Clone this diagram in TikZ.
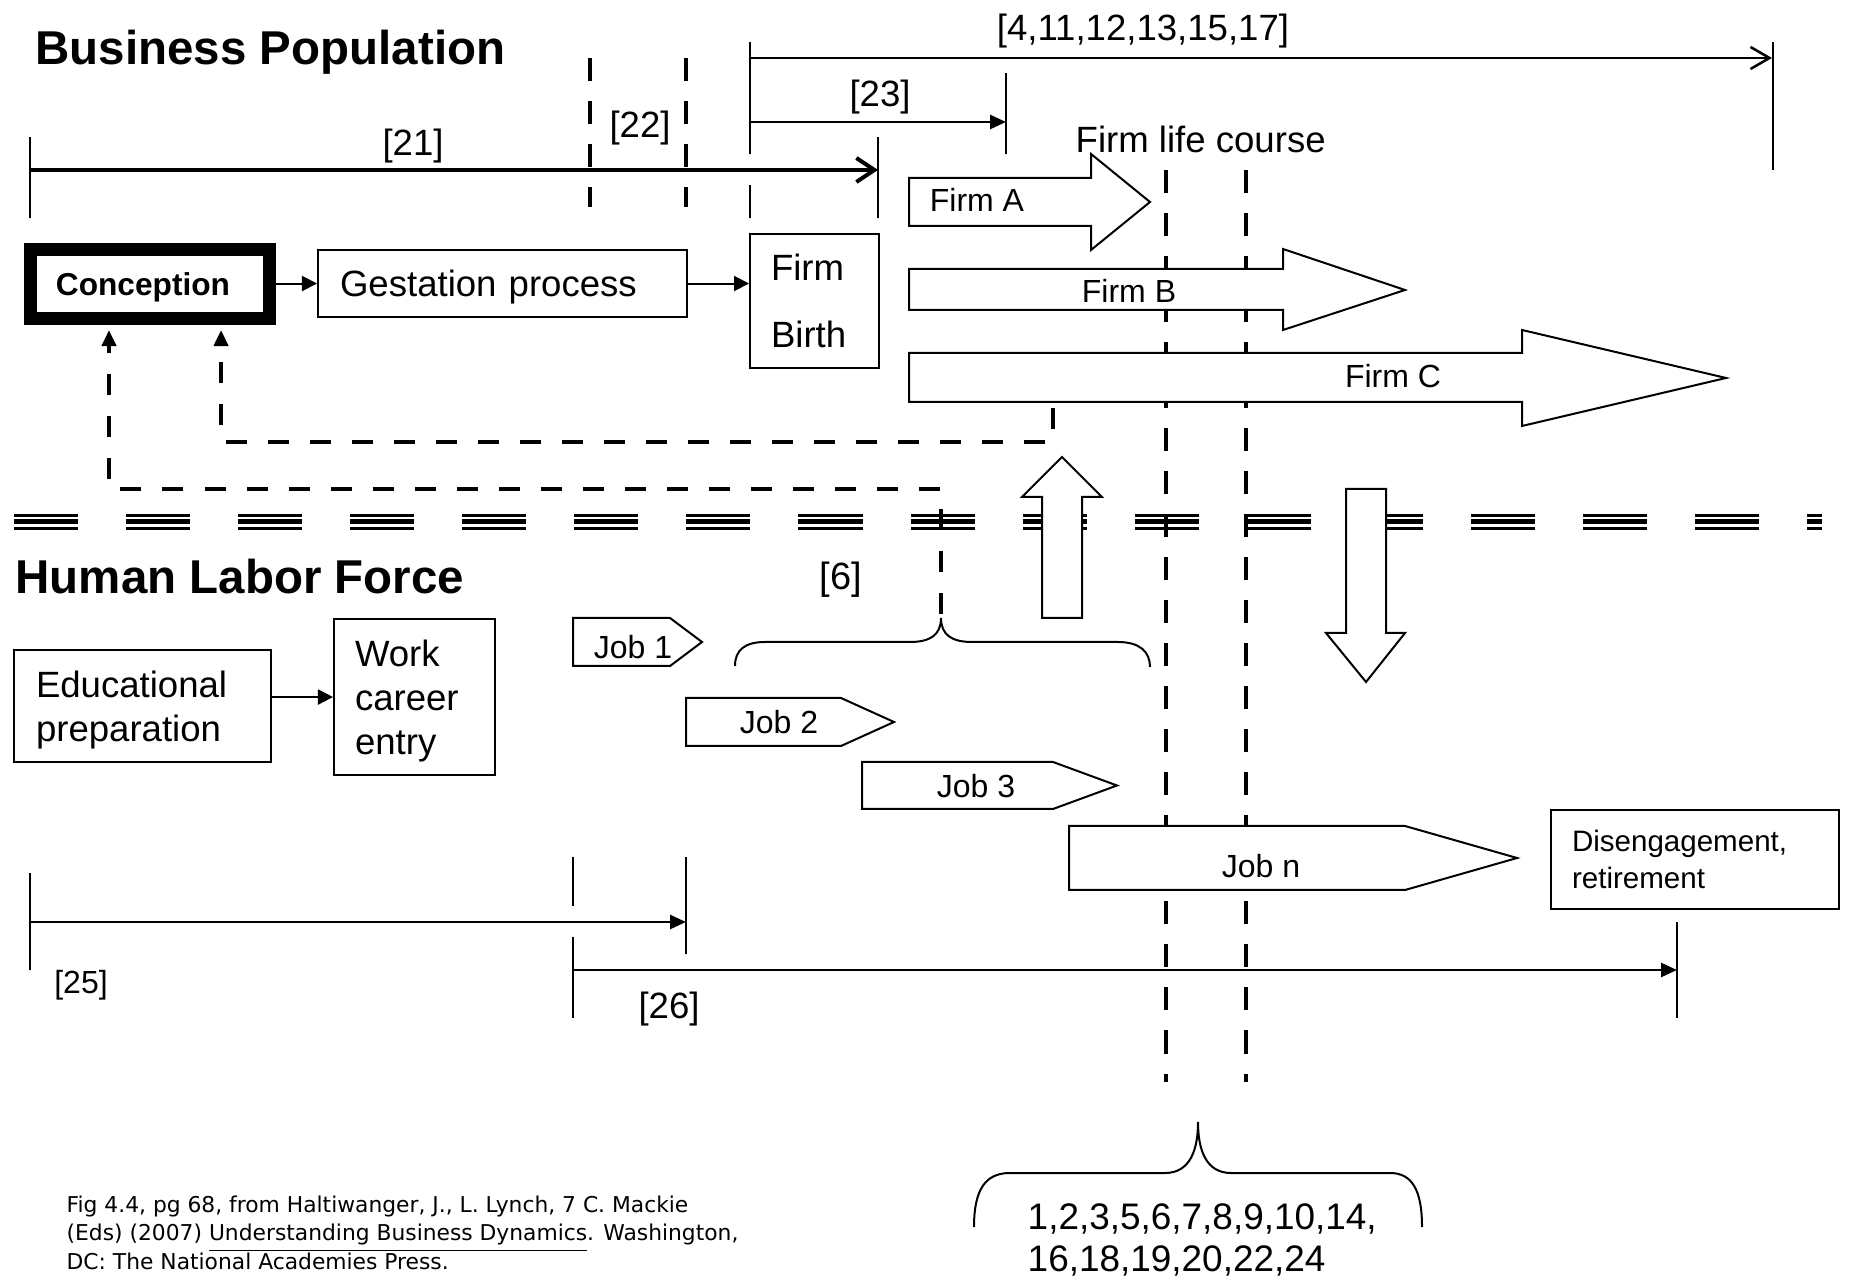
\documentclass[tikz,border=0pt]{standalone}
\usepackage{fontspec}
\setmainfont{Liberation Sans}
\newfontfamily\citefont{DejaVu Sans}
\usetikzlibrary{arrows.meta}

\tikzset{
  box/.style={draw, line width=0.2mm, inner ysep=0pt, align=left},
  lbl/.style={font=\fontsize{10.4}{12}\selectfont, inner sep=0pt},
  sml/.style={font=\fontsize{9.1}{11}\selectfont, inner sep=0pt},
  ttl/.style={font=\fontsize{13.5}{16}\selectfont\bfseries, inner sep=0pt},
  tick/.style={line width=0.2mm},
  bar/.style={line width=0.45mm, dash pattern=on 2.3mm off 2mm},
  fb/.style={line width=0.43mm, dash pattern=on 2.1mm off 2.1mm, -{Triangle[length=1.6mm,width=1.4mm]}},
  tl/.style={line width=0.27mm, -{Triangle[length=1.6mm,width=1.4mm]}},
  shp/.style={draw, line width=0.2mm, fill=white},
  arr/.style={line width=0.2mm, -{Triangle[length=1.5mm,width=1.5mm]}},
}

\begin{document}
\begin{tikzpicture}[x=0.01cm, y=-0.01cm]
\fill[white] (0,0) rectangle (1849,1277);
\useasboundingbox (0,0) rectangle (1849,1277);

%% titles
\node[ttl, anchor=base west] (bp) at (35,65) {Business Population};
\node[ttl, anchor=base west] (hlf) at (15,594) {Human Labor Force};

%% business side boxes
\node[draw, line width=1.3mm, font=\fontsize{9}{11}\selectfont\bfseries, minimum width=23.9mm, minimum height=6.9mm,
      text width=18.8mm, text depth=0pt, inner xsep=2.55mm, inner ysep=0pt, align=left] (concep) at (150,284) {Conception};
\node[box, lbl, text depth=0pt, anchor=north west, minimum width=36.9mm, minimum height=6.7mm, text width=32.5mm, inner xsep=2.2mm] (gest) at (317,249) {Gestation process};
\node[box, lbl, font=\fontsize{10.4}{19}\selectfont, anchor=north west, minimum width=12.9mm, minimum height=13.4mm,
      text width=8.7mm, inner xsep=2.1mm] (birth) at (749,233) {Firm\\Birth};
\draw[arr] (gest.west -| concep.east) -- (gest.west);
\draw[arr] (gest.east) -- (gest.east -| birth.west);

%% labour side boxes
\node[box, lbl, font=\fontsize{10.4}{12.5}\selectfont, anchor=north west, minimum width=25.7mm, minimum height=11.2mm,
      text width=21.3mm, inner xsep=2.2mm] (edu) at (13,649) {\rule{0pt}{10pt}Educational\\preparation};
\node[box, lbl, font=\fontsize{10.4}{12.5}\selectfont, anchor=north west, minimum width=16.1mm, minimum height=15.6mm,
      text width=11.9mm, inner xsep=2.1mm] (work) at (333,618) {\rule{0pt}{9.9pt}Work\\career\\entry};
\node[box, font=\fontsize{8.4}{10.5}\selectfont, anchor=north west, minimum width=28.8mm, minimum height=9.9mm,
      text width=24.6mm, inner xsep=2.1mm] (diseng) at (1550,809) {Disengagement,\\retirement};
\draw[arr] (work.west -| edu.east) -- (work.west);

%% timelines on top
\coordinate (a21) at (30,170);  \coordinate (b21) at (878,170);
\coordinate (a4) at (750,58);   \coordinate (b4) at (1772,58);
\coordinate (a23) at (750,122); \coordinate (b23) at (1006,122);
\draw[line width=0.4mm, -{Straight Barb[length=1.8mm,width=2.4mm]}] (a21) -- (b21);
\draw[line width=0.25mm, -{Straight Barb[length=1.9mm,width=2.2mm]}] (a4) -- (b4);
\draw[tl] (a23) -- (b23);
\draw[tick] (30,137) -- (30,218);
\draw[tick] (878,137) -- (878,218);
\draw[tick] (750,42) -- (750,154) (750,185) -- (750,218);
\draw[tick] (1006,73) -- (1006,154);
\draw[tick] (1773,42) -- (1773,170);
\node[lbl] (l21) at (413,146) {[21]};
\node[lbl] (l22) at (640,128) {[22]};
\node[lbl] (l23) at (880,97) {[23]};
\node[lbl] (l4) at (1143,31) {[4,11,12,13,15,17]};
\node[lbl, anchor=base west] (flc) at (1075,153) {Firm life course};
\draw[bar] (590,58) -- (590,207);
\draw[bar] (686,58) -- (686,207);

%% timelines below
\coordinate (a25) at (30,922);  \coordinate (b25) at (686,922);
\coordinate (a26) at (573,970); \coordinate (b26) at (1677,970);
\draw[tl] (a25) -- (b25);
\draw[tl] (a26) -- (b26);
\draw[tick] (30,873) -- (30,970);
\draw[tick] (686,857) -- (686,954);
\draw[tick] (573,857) -- (573,906) (573,937) -- (573,1018);
\draw[tick] (1677,922) -- (1677,1018);
\node[sml] (l25) at (81,985) {[25]};
\node[lbl] (l26) at (669,1009) {[26]};

%% divider
\foreach \y/\w in {515.3/0.27, 521.7/0.53, 528.3/0.27}
  \draw[line width=\w mm, dash pattern=on 6.4mm off 4.8mm] (14,\y) -- (1822,\y);

%% firm life course window
\draw[bar] (1166,170) -- (1166,1082);
\draw[bar] (1246,170) -- (1246,1082);

%% feedback to conception
\coordinate (cusp6) at (941,614);
\coordinate (footC) at (1053,408);
\draw[fb] (cusp6) -- ++(0,-125) -| ([xshift=-4.1mm,yshift=-0.5mm]concep.south);
\draw[fb] (footC) -- ++(0,34) -| ([xshift=7.1mm,yshift=-0.5mm]concep.south);

%% firms
\draw[shp] (909,178) -- (1091,178) -- (1091,154) -- (1150,202) -- (1091,250) -- (1091,226) -- (909,226) -- cycle;
\draw[shp] (909,269) -- (1283,269) -- (1283,249) -- (1405,290) -- (1283,330) -- (1283,310) -- (909,310) -- cycle;
\draw[shp] (909,353) -- (1522,353) -- (1522,330) -- (1726,378) -- (1522,426) -- (1522,402) -- (909,402) -- cycle;
\node[sml] (firmA) at (977,200) {Firm A};
\node[sml] (firmB) at (1129,291) {Firm B};
\node[sml] (firmC) at (1393,376) {Firm C};

%% jobs
\draw[shp] (573,618) -- (670,618) -- (702,642) -- (670,666) -- (573,666) -- cycle;
\draw[shp] (686,698) -- (841,698) -- (894,722) -- (841,746) -- (686,746) -- cycle;
\draw[shp] (862,762) -- (1053,762) -- (1117,785.5) -- (1053,809) -- (862,809) -- cycle;
\draw[shp] (1069,826) -- (1405,826) -- (1517,858) -- (1405,890) -- (1069,890) -- cycle;
\node[sml] (job1) at (633,647) {Job 1};
\node[sml] (job2) at (779,722) {Job 2};
\node[sml] (job3) at (976,786) {Job 3};
\node[sml] (jobn) at (1261,866) {Job n};

%% up / down
\draw[shp] (1042,618) -- (1042,497) -- (1022,497) -- (1062,457) -- (1102,497) -- (1082,497) -- (1082,618) -- cycle;
\draw[shp] (1346,489) -- (1346,633) -- (1326,633) -- (1366,682) -- (1405,633) -- (1386,633) -- (1386,489) -- cycle;

%% braces
\draw[line width=0.2mm] (735,666) .. controls (735,650) and (745,642) .. (765,642) -- (910,642)
  .. controls (930,642) and (941,635) .. (941,618) .. controls (941,635) and (952,642) .. (972,642)
  -- (1118,642) .. controls (1140,642) and (1150,652) .. (1150,667);
\node[lbl, font=\fontsize{10.8}{12}\selectfont] (l6) at (841,580) {[6]};
\draw[line width=0.2mm] (974,1227) .. controls (974,1190) and (985,1173) .. (1010,1173) -- (1165,1173)
  .. controls (1190,1173) and (1198,1150) .. (1198,1122) .. controls (1198,1150) and (1206,1173) .. (1231,1173)
  -- (1390,1173) .. controls (1412,1173) and (1422,1190) .. (1422,1227);
\node[lbl, font=\fontsize{10.5}{11.95}\selectfont, align=left, anchor=north west] (refs) at (1027,1203) {1,2,3,5,6,7,8,9,10,14,\\16,18,19,20,22,24};

%% source
\node[anchor=north west, inner sep=0pt, align=left, font=\citefont\fontsize{6.2}{8.1}\selectfont] (cite) at (66,1195)
  {Fig 4.4, pg 68, from Haltiwanger, J., L. Lynch, 7 C. Mackie\\(Eds) (2007) \underline{Understanding Business Dynamics}. Washington,\\DC: The National Academies Press.};
\end{tikzpicture}
\end{document}
